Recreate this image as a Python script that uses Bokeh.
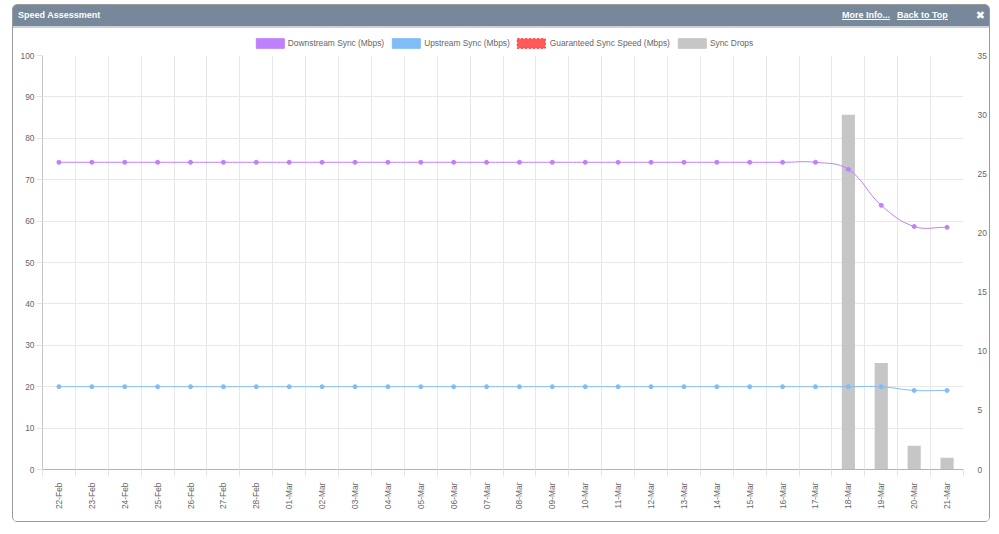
import math
from bokeh.plotting import figure
from bokeh.models import Range1d, LinearAxis, FixedTicker, Legend, LegendItem, Div, ColumnDataSource
from bokeh.layouts import column
from bokeh.embed import file_html
from bokeh.resources import INLINE

days = ["22-Feb", "23-Feb", "24-Feb", "25-Feb", "26-Feb", "27-Feb", "28-Feb",
        "01-Mar", "02-Mar", "03-Mar", "04-Mar", "05-Mar", "06-Mar", "07-Mar",
        "08-Mar", "09-Mar", "10-Mar", "11-Mar", "12-Mar", "13-Mar", "14-Mar",
        "15-Mar", "16-Mar", "17-Mar", "18-Mar", "19-Mar", "20-Mar", "21-Mar"]
downstream = [74.2, 74.2, 74.2, 74.2, 74.2, 74.2, 74.2,
              74.2, 74.2, 74.2, 74.2, 74.2, 74.2, 74.2,
              74.2, 74.2, 74.2, 74.2, 74.2, 74.2, 74.2,
              74.2, 74.2, 74.2, 72.5, 63.8, 58.7, 58.5]
upstream = [20.0, 20.0, 20.0, 20.0, 20.0, 20.0, 20.0,
            20.0, 20.0, 20.0, 20.0, 20.0, 20.0, 20.0,
            20.0, 20.0, 20.0, 20.0, 20.0, 20.0, 20.0,
            20.0, 20.0, 20.0, 20.0, 20.0, 19.1, 19.1]
NA = float("nan")
guaranteed = [NA, NA, NA, NA, NA, NA, NA,
              NA, NA, NA, NA, NA, NA, NA,
              NA, NA, NA, NA, NA, NA, NA,
              NA, NA, NA, NA, NA, NA, NA]
sync_drops = [0, 0, 0, 0, 0, 0, 0,
              0, 0, 0, 0, 0, 0, 0,
              0, 0, 0, 0, 0, 0, 0,
              0, 0, 0, 30, 9, 2, 1]
left_ticks = [0, 10, 20, 30, 40, 50, 60, 70, 80, 90, 100]
right_ticks = [0, 5, 10, 15, 20, 25, 30, 35]

DOWN_C = "#bf80fb"
UP_C = "#80bdf7"
RED_C = "#ff5a5a"
GRAY_C = "#c6c6c6"
TXT_C = "#666666"
FONT = "Liberation Sans"
FS = "8.4px"

n = len(days)
xs = [i + 0.5 for i in range(n)]

FW, FH = 924, 414
p = figure(width=976, height=472, x_range=Range1d(0, n), y_range=Range1d(0, 100),
           output_backend="svg", toolbar_location=None,
           min_border_left=29, min_border_right=23, min_border_top=6, min_border_bottom=52)
p.outline_line_color = None
p.extra_y_ranges = {"drops": Range1d(0, 35)}

bars = p.vbar(x=xs, top=sync_drops, width=0.4, y_range_name="drops",
              fill_color=GRAY_C, line_color=None)


def spline_segments(xv, yv, t=0.4):
    sx = FW / n
    sy = FH / 100.0
    px = [x * sx for x in xv]
    py = [y * sy for y in yv]
    cps = []
    m = len(px)
    for i in range(m):
        pi_ = max(i - 1, 0)
        ni = min(i + 1, m - 1)
        d01 = math.hypot(px[i] - px[pi_], py[i] - py[pi_])
        d12 = math.hypot(px[ni] - px[i], py[ni] - py[i])
        tot = d01 + d12
        s01 = d01 / tot if tot else 0
        s12 = d12 / tot if tot else 0
        fa, fb = t * s01, t * s12
        dx, dy = px[ni] - px[pi_], py[ni] - py[pi_]
        prev = ((px[i] - fa * dx) / sx, (py[i] - fa * dy) / sy)
        nxt = ((px[i] + fb * dx) / sx, (py[i] + fb * dy) / sy)
        cps.append((prev, nxt))
    d = dict(x0=[], y0=[], x1=[], y1=[], cx0=[], cy0=[], cx1=[], cy1=[])
    for i in range(m - 1):
        d["x0"].append(xv[i]); d["y0"].append(yv[i])
        d["x1"].append(xv[i + 1]); d["y1"].append(yv[i + 1])
        d["cx0"].append(cps[i][1][0]); d["cy0"].append(cps[i][1][1])
        d["cx1"].append(cps[i + 1][0][0]); d["cy1"].append(cps[i + 1][0][1])
    return ColumnDataSource(d)


for ser, col in ((downstream, DOWN_C), (upstream, UP_C)):
    p.bezier(x0="x0", y0="y0", x1="x1", y1="y1", cx0="cx0", cy0="cy0", cx1="cx1", cy1="cy1",
             source=spline_segments(xs, ser), line_color=col, line_width=1)
    p.scatter(x=xs, y=ser, size=4, fill_color=col, line_color=col)

xa = p.xaxis[0]
xa.ticker = FixedTicker(ticks=list(range(n + 1)))
xa.major_label_overrides = {i: "" for i in range(n + 1)}
xa.major_label_standoff = 0
xa.major_tick_out = 7
xa.major_tick_in = 0
xa.major_tick_line_color = "#e4e4e4"
xa.minor_tick_line_color = None
xa.axis_line_color = "#b4b4b4"

lab = LinearAxis(ticker=FixedTicker(ticks=xs),
                 major_label_overrides={x: d for x, d in zip(xs, days)},
                 major_label_orientation=math.pi / 2,
                 axis_line_color=None, major_tick_line_color=None, minor_tick_line_color=None,
                 major_label_standoff=0, major_label_text_font=FONT,
                 major_label_text_font_size=FS, major_label_text_color=TXT_C)
p.add_layout(lab, "below")

ya = p.yaxis[0]
ya.ticker = FixedTicker(ticks=left_ticks)
ya.major_tick_out = 6
ya.major_tick_in = 0
ya.major_tick_line_color = "#e4e4e4"
ya.minor_tick_line_color = None
ya.axis_line_color = "#c4c4c4"
ya.major_label_standoff = 2
ya.major_label_text_font = FONT
ya.major_label_text_font_size = FS
ya.major_label_text_color = TXT_C

ra = LinearAxis(y_range_name="drops", ticker=FixedTicker(ticks=right_ticks),
                axis_line_color=None, major_tick_line_color=None, minor_tick_line_color=None,
                major_label_standoff=8, major_label_text_font=FONT,
                major_label_text_font_size=FS, major_label_text_color=TXT_C)
p.add_layout(ra, "right")

p.xgrid.ticker = FixedTicker(ticks=list(range(n + 1)))
p.xgrid.grid_line_color = "#e8e8e8"
p.ygrid.ticker = FixedTicker(ticks=left_ticks)
p.ygrid.grid_line_color = "#e8e8e8"

# legend strip (own figure so the legend is not clipped)
lg = figure(width=976, height=21, x_range=Range1d(0, n), y_range=Range1d(0, 100),
            output_backend="svg", toolbar_location=None, min_border=0)
lg.axis.visible = False
lg.grid.visible = False
lg.outline_line_color = None
r_down = lg.rect(x=xs, y=downstream, width=0, height=0, fill_color=DOWN_C, line_color=DOWN_C)
r_up = lg.rect(x=xs, y=upstream, width=0, height=0, fill_color=UP_C, line_color=UP_C)
r_red = lg.rect(x=xs, y=guaranteed, width=1, height=1,
                fill_color=RED_C, line_color="#ff2a2a", line_dash="2 2")
r_gray = lg.rect(x=xs, y=sync_drops, width=0, height=0, fill_color=GRAY_C, line_color=GRAY_C)

legend = Legend(items=[
    LegendItem(label="Downstream Sync (Mbps)", renderers=[r_down]),
    LegendItem(label="Upstream Sync (Mbps)", renderers=[r_up]),
    LegendItem(label="Guaranteed Sync Speed (Mbps)", renderers=[r_red]),
    LegendItem(label="Sync Drops", renderers=[r_gray]),
], orientation="horizontal", location="bottom_center",
    glyph_width=35, glyph_height=12, label_height=12, label_standoff=1, spacing=4,
    padding=0, margin=0, border_line_color=None, background_fill_alpha=0,
    label_text_font=FONT, label_text_font_size=FS, label_text_color=TXT_C)
lg.add_layout(legend, "center")

header_html = (
    '<div style="display:flex;align-items:center;width:976px;height:23px;background:#77889a;'
    'color:#fff;font-family:\'Liberation Sans\',Arial,sans-serif;font-weight:bold;font-size:9px;'
    'padding:0 4px 0 5px;box-sizing:border-box;border-bottom:2px solid #ccd2d9;">'
    '<span>Speed Assessment</span>'
    '<span style="margin-left:auto;text-decoration:underline">More Info...</span>'
    '<span style="margin-left:7px;text-decoration:underline">Back to Top</span>'
    '<span style="margin-left:28px;font-size:11px;font-family:\'DejaVu Sans\'">&#x2716;</span>'
    '</div>'
)
header = Div(text=header_html, width=976, height=23, margin=0)

layout = column(header, lg, p, spacing=0, margin=0,
                styles={"border": "1px solid #9a9a9a", "border-radius": "5px",
                        "margin-left": "12px", "margin-top": "4px",
                        "overflow": "hidden", "background": "white"})

open("out.html", "w").write(file_html(layout, INLINE))
